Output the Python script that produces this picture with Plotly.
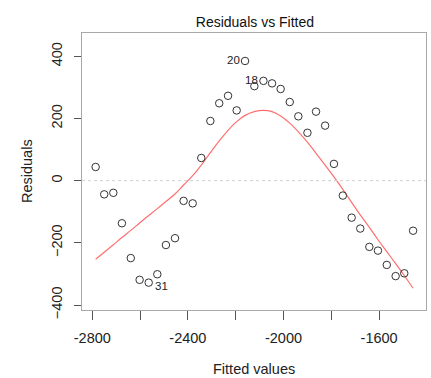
import plotly.graph_objects as go

fitted = [-2786, -2750, -2712, -2676, -2639, -2602, -2564, -2528, -2492, -2454,
          -2418, -2380, -2344, -2306, -2269, -2232, -2196, -2161, -2122, -2084,
          -2048, -2012, -1974, -1938, -1900, -1864, -1826, -1789, -1752, -1715,
          -1679, -1641, -1605, -1568, -1531, -1495, -1458]
residuals = [44, -44, -39, -137, -249, -319, -328, -301, -207, -185,
             -65, -73, 73, 192, 249, 273, 226, 385, 304, 321,
             313, 295, 253, 207, 154, 222, 177, 54, -48, -119,
             -154, -213, -225, -271, -307, -298, -161]
smooth = [-253, -230, -206, -183, -160, -136, -112, -90, -67, -43,
          -14, 16, 50, 90, 128, 162, 190, 210, 222, 226,
          222, 208, 185, 157, 124, 88, 50, 12, -28, -70,
          -110, -150, -190, -228, -267, -305, -346]
labels = {17: "20", 19: "18", 6: "31"}
x_ticks = [-2800, -2600, -2400, -2200, -2000, -1800, -1600]
x_tick_text = ["-2800", "", "-2400", "", "-2000", "", "-1600"]
y_ticks = [-400, -200, 0, 200, 400]

FONT = "Liberation Sans, Arial, sans-serif"

fig = go.Figure()
fig.add_trace(go.Scatter(x=fitted, y=smooth, mode="lines",
                         line=dict(color="#ff6f6f", width=1.2, shape="spline"),
                         hoverinfo="skip", showlegend=False))
fig.add_trace(go.Scatter(x=fitted, y=residuals, mode="markers",
                         marker=dict(symbol="circle-open", size=7.5,
                                     color="#333333", line=dict(width=1)),
                         showlegend=False))

fig.add_shape(type="line", xref="paper", yref="y", x0=0, x1=1, y0=0, y1=0,
              line=dict(color="#d0d0d0", width=1, dash="dot"))

for i, txt in labels.items():
    if txt == "31":
        fig.add_annotation(x=fitted[i], y=residuals[i], text=txt, showarrow=False,
                           xanchor="left", xshift=4, yshift=-3,
                           font=dict(family=FONT, size=11.5, color="#222"))
    else:
        fig.add_annotation(x=fitted[i], y=residuals[i], text=txt, showarrow=False,
                           xanchor="right", xshift=-3, yshift=1,
                           font=dict(family=FONT, size=11.5, color="#222"))

# axis titles
fig.add_annotation(xref="paper", yref="paper", x=0.5, y=-0.2148, text="Fitted values",
                   showarrow=False, xanchor="center", yanchor="middle",
                   font=dict(family=FONT, size=14.5, color="#222"))
fig.add_annotation(xref="paper", yref="paper", x=-0.1613, y=0.5, text="Residuals",
                   textangle=-90, showarrow=False, xanchor="center", yanchor="middle",
                   font=dict(family=FONT, size=14.5, color="#222"))

fig.update_layout(
    width=431, height=378,
    margin=dict(l=82, r=5, t=33, b=68),
    paper_bgcolor="white", plot_bgcolor="white",
    font=dict(family=FONT, size=14.5, color="#222"),
    title=dict(text="Residuals vs Fitted", x=0.5915, xanchor="center", y=0.9426,
               yanchor="middle", font=dict(size=14, color="#111")),
    xaxis=dict(range=[-2843, -1404], tickvals=x_ticks, ticktext=x_tick_text,
               showgrid=False, zeroline=False, ticks="outside", ticklen=9,
               tickcolor="#555", showline=True, linecolor="#a8a8a8", mirror=True,
               linewidth=1.2, tickfont=dict(size=14.5), ticklabelstandoff=5),
    yaxis=dict(range=[-416, 475], tickvals=y_ticks, tickangle=-90,
               showgrid=False, zeroline=False, ticks="outside", ticklen=7,
               tickcolor="#555", showline=True, linecolor="#a8a8a8", mirror=True,
               linewidth=1.2, tickfont=dict(size=14.5), ticklabelstandoff=6),
)
fig.write_html("out.html")
